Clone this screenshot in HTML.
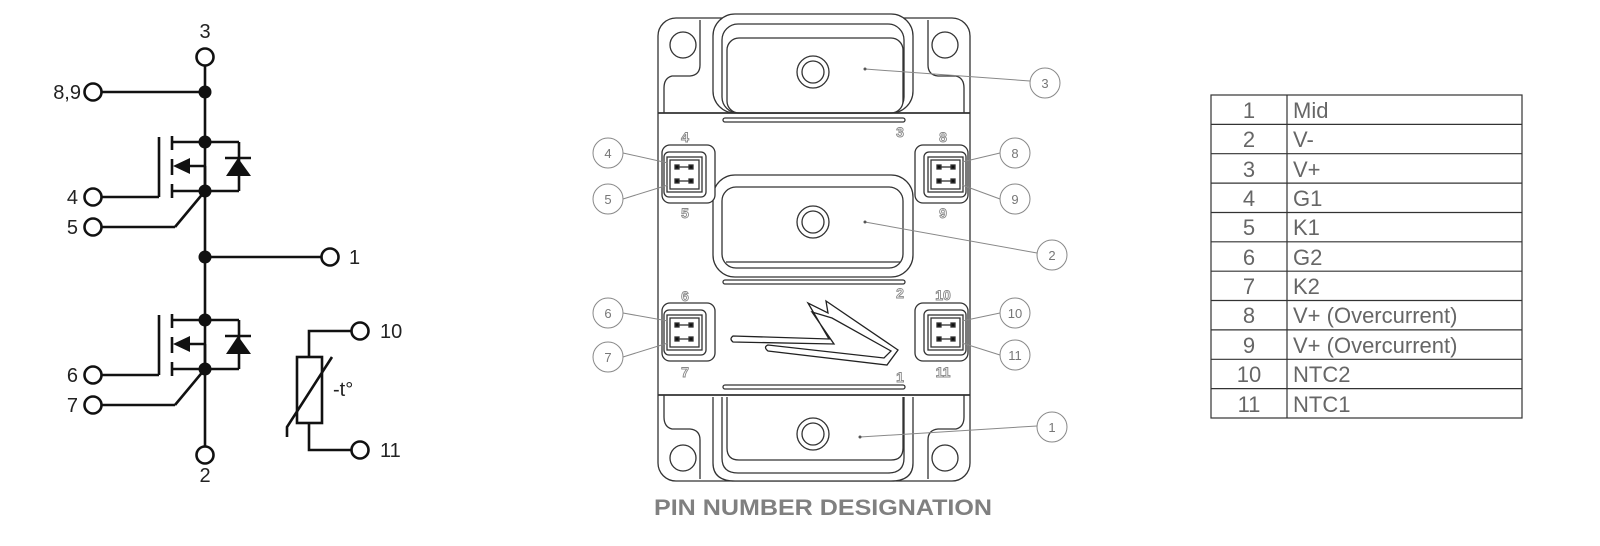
<!DOCTYPE html>
<html><head><meta charset="utf-8"><style>
html,body{margin:0;padding:0;background:#fff;}
svg{display:block;}
</style></head><body>
<svg width="1600" height="546" viewBox="0 0 1600 546" xmlns="http://www.w3.org/2000/svg">
<g stroke="#111" stroke-width="2.6" fill="none">
  <line x1="205" y1="66" x2="205" y2="446"/>
  <circle cx="205" cy="57" r="8.5" fill="#fff"/>
  <circle cx="205" cy="455" r="8.5" fill="#fff"/>
  <line x1="102" y1="92" x2="205" y2="92"/>
  <circle cx="93" cy="92" r="8.5" fill="#fff"/>
  <line x1="205" y1="257" x2="321" y2="257"/>
  <circle cx="330" cy="257" r="8.5" fill="#fff"/>
</g>
<g fill="#111">
  <circle cx="205" cy="92" r="6.5"/>
  <circle cx="205" cy="257" r="6.5"/>
</g>
<g id="m1" stroke="#111" stroke-width="2.6" fill="none">
  <line x1="159" y1="137" x2="159" y2="197"/>
  <line x1="172" y1="136" x2="172" y2="150"/>
  <line x1="172" y1="159" x2="172" y2="175"/>
  <line x1="172" y1="184" x2="172" y2="198"/>
  <line x1="172" y1="142" x2="239" y2="142"/>
  <line x1="172" y1="191" x2="239" y2="191"/>
  <line x1="239" y1="142" x2="239" y2="191"/>
  <line x1="185" y1="166" x2="205" y2="166"/>
  <line x1="205" y1="166" x2="205" y2="191"/>
  <line x1="225" y1="158" x2="251" y2="158"/>
  <line x1="102" y1="197" x2="159" y2="197"/>
  <line x1="102" y1="227" x2="175" y2="227"/>
  <line x1="175" y1="227" x2="205" y2="191"/>
  <circle cx="93" cy="197" r="8.5" fill="#fff"/>
  <circle cx="93" cy="227" r="8.5" fill="#fff"/>
  <polygon points="238,158 226,176 251,176" fill="#111" stroke="none"/>
  <polygon points="173,166 190,158 190,174" fill="#111" stroke="none"/>
  <circle cx="205" cy="142" r="6.5" fill="#111" stroke="none"/>
  <circle cx="205" cy="191" r="6.5" fill="#111" stroke="none"/>
</g>
<use href="#m1" transform="translate(0,178)"/>
<g stroke="#111" stroke-width="2.6" fill="none">
  <rect x="297" y="357" width="25" height="66"/>
  <polyline points="309,357 309,331 351,331"/>
  <polyline points="309,423 309,450 351,450"/>
  <circle cx="360" cy="331" r="8.5" fill="#fff"/>
  <circle cx="360" cy="450" r="8.5" fill="#fff"/>
  <polyline points="287,437 287,427 332,357"/>
</g>
<g font-family="Liberation Sans, sans-serif" font-size="20" fill="#222">
  <text x="205" y="38" text-anchor="middle">3</text>
  <text x="205" y="482" text-anchor="middle">2</text>
  <text x="81" y="99" text-anchor="end">8,9</text>
  <text x="78" y="204" text-anchor="end">4</text>
  <text x="78" y="234" text-anchor="end">5</text>
  <text x="78" y="382" text-anchor="end">6</text>
  <text x="78" y="412" text-anchor="end">7</text>
  <text x="349" y="264">1</text>
  <text x="380" y="338">10</text>
  <text x="380" y="457">11</text>
  <text x="333" y="396">-t°</text>
</g>

<g stroke="#333" stroke-width="1.3" fill="#fff">
  <rect x="658" y="18" width="312" height="463" rx="18"/>
  <path d="M700 20 L700 65 Q700 75 690 76 L672 76 Q664 78 664 88 L664 113 M928 20 L928 65 Q928 75 938 76 L956 76 Q964 78 964 88 L964 113" fill="none"/>
  <path d="M700 479 L700 440 Q700 430 690 429 L672 429 Q664 427 664 417 L664 395 M928 479 L928 440 Q928 430 938 429 L956 429 Q964 427 964 417 L964 395" fill="none"/>
  <circle cx="683" cy="45" r="13"/><circle cx="945" cy="45" r="13"/>
  <circle cx="683" cy="458" r="13"/><circle cx="945" cy="458" r="13"/>
  <rect x="713" y="14" width="200" height="99" rx="22"/>
  <rect x="722" y="24" width="182" height="89" rx="16"/>
  <rect x="727" y="38" width="176" height="75" rx="12"/>
  <circle cx="813" cy="72" r="16"/><circle cx="813" cy="72" r="11"/>
  <line x1="658" y1="113" x2="970" y2="113" stroke-width="1.8"/>
  <line x1="658" y1="395" x2="970" y2="395" stroke-width="1.8"/>
  <rect x="723" y="118" width="182" height="4" rx="2"/>
  <rect x="723" y="280" width="182" height="4" rx="2"/>
  <rect x="723" y="385" width="182" height="4" rx="2"/>
  <rect x="713" y="175" width="200" height="102" rx="22"/>
  <rect x="722" y="187" width="181" height="81" rx="14"/>
  <line x1="726" y1="262" x2="900" y2="262"/>
  <circle cx="813" cy="222" r="16"/><circle cx="813" cy="222" r="11"/>
  <path d="M713 397 L713 463 Q713 481 735 481 L891 481 Q913 481 913 463 L913 397"/>
  <path d="M722 397 L722 458 Q722 473 738 473 L888 473 Q904 473 904 458 L904 397"/>
  <path d="M727 397 L727 448 Q727 460 739 460 L891 460 Q903 460 903 448 L903 397"/>
  <circle cx="813" cy="434" r="16"/><circle cx="813" cy="434" r="11"/>
</g>
<g id="cn" stroke="#333" stroke-width="1.3" fill="#fff">
  <rect x="662" y="145" width="53" height="58" rx="8"/>
  <rect x="664" y="152" width="42" height="45" rx="5"/>
  <rect x="667" y="157" width="35" height="35"/>
  <rect x="670" y="160" width="29" height="29" fill="none"/>
  <line x1="677" y1="167" x2="691" y2="167"/>
  <line x1="677" y1="181" x2="691" y2="181"/>
  <rect x="675" y="165" width="4" height="4" fill="#111"/>
  <rect x="689" y="165" width="4" height="4" fill="#111"/>
  <rect x="675" y="179" width="4" height="4" fill="#111"/>
  <rect x="689" y="179" width="4" height="4" fill="#111"/>
</g>
<use href="#cn" transform="translate(0,158)"/>
<use href="#cn" transform="translate(1630,0) scale(-1,1)"/>
<use href="#cn" transform="translate(1630,158) scale(-1,1)"/>
<path d="M733 336 L829 339 L808 303 L828 313 L826 301 L898 350 L887 365 L768 351 Q763 347 768 345 L884 358 L891 351 L832 318 L812 312 L834 344 L733 342 Q729 339 733 336 Z" fill="#fff" stroke="#222" stroke-width="1.3"/>
<g font-family="Liberation Sans, sans-serif" font-weight="bold" font-size="14" fill="#fff" stroke="#888" stroke-width="0.9" text-anchor="middle">
  <text x="900" y="137">3</text><text x="900" y="298">2</text><text x="900" y="382">1</text>
  <text x="685" y="142">4</text><text x="685" y="218">5</text>
  <text x="943" y="142">8</text><text x="943" y="218">9</text>
  <text x="685" y="301">6</text><text x="685" y="377">7</text>
  <text x="943" y="300">10</text><text x="943" y="377">11</text>
</g>
<g stroke="#888" stroke-width="1" fill="#fff">
  <line x1="623" y1="153" x2="668" y2="163"/>
  <line x1="623" y1="199" x2="668" y2="185"/>
  <line x1="623" y1="313" x2="668" y2="321"/>
  <line x1="623" y1="357" x2="668" y2="343"/>
  <line x1="1000" y1="153" x2="962" y2="162"/>
  <line x1="1000" y1="199" x2="962" y2="185"/>
  <line x1="1000" y1="313" x2="962" y2="321"/>
  <line x1="1000" y1="355" x2="962" y2="343"/>
  <line x1="865" y1="69" x2="1030" y2="81"/>
  <line x1="865" y1="222" x2="1037" y2="253"/>
  <line x1="860" y1="437" x2="1037" y2="426"/>
  <circle cx="608" cy="153" r="15"/><circle cx="608" cy="199" r="15"/>
  <circle cx="608" cy="313" r="15"/><circle cx="608" cy="357" r="15"/>
  <circle cx="1015" cy="153" r="15"/><circle cx="1015" cy="199" r="15"/>
  <circle cx="1015" cy="313" r="15"/><circle cx="1015" cy="355" r="15"/>
  <circle cx="1045" cy="83" r="15"/><circle cx="1052" cy="255" r="15"/><circle cx="1052" cy="427" r="15"/>
</g>
<g fill="#555" stroke="none"><circle cx="865" cy="69" r="1.5"/><circle cx="865" cy="222" r="1.5"/><circle cx="860" cy="437" r="1.5"/></g>
<g font-family="Liberation Sans, sans-serif" font-size="13" fill="#777" text-anchor="middle">
  <text x="608" y="158">4</text><text x="608" y="204">5</text><text x="608" y="318">6</text><text x="608" y="362">7</text>
  <text x="1015" y="158">8</text><text x="1015" y="204">9</text><text x="1015" y="318">10</text><text x="1015" y="360">11</text>
  <text x="1045" y="88">3</text><text x="1052" y="260">2</text><text x="1052" y="432">1</text>
</g>
<text x="823" y="515" text-anchor="middle" font-family="Liberation Sans, sans-serif" font-weight="bold" font-size="22" fill="#808080" textLength="338" lengthAdjust="spacingAndGlyphs">PIN NUMBER DESIGNATION</text>

<g stroke="#333" stroke-width="1.2" fill="none">
  <rect x="1211" y="95" width="311" height="323"/>
  <line x1="1287" y1="95" x2="1287" y2="418"/>
  <line x1="1211" y1="124.4" x2="1522" y2="124.4"/>
  <line x1="1211" y1="153.7" x2="1522" y2="153.7"/>
  <line x1="1211" y1="183.1" x2="1522" y2="183.1"/>
  <line x1="1211" y1="212.5" x2="1522" y2="212.5"/>
  <line x1="1211" y1="241.8" x2="1522" y2="241.8"/>
  <line x1="1211" y1="271.2" x2="1522" y2="271.2"/>
  <line x1="1211" y1="300.5" x2="1522" y2="300.5"/>
  <line x1="1211" y1="329.9" x2="1522" y2="329.9"/>
  <line x1="1211" y1="359.3" x2="1522" y2="359.3"/>
  <line x1="1211" y1="388.6" x2="1522" y2="388.6"/>
</g>
<g font-family="Liberation Sans, sans-serif" font-size="22" fill="#666">
  <g text-anchor="middle">
    <text x="1249" y="118">1</text><text x="1249" y="147">2</text><text x="1249" y="177">3</text>
    <text x="1249" y="206">4</text><text x="1249" y="235">5</text><text x="1249" y="265">6</text>
    <text x="1249" y="294">7</text><text x="1249" y="323">8</text><text x="1249" y="353">9</text>
    <text x="1249" y="382">10</text><text x="1249" y="412">11</text>
  </g>
  <text x="1293" y="118">Mid</text><text x="1293" y="147">V-</text><text x="1293" y="177">V+</text>
  <text x="1293" y="206">G1</text><text x="1293" y="235">K1</text><text x="1293" y="265">G2</text>
  <text x="1293" y="294">K2</text><text x="1293" y="323">V+ (Overcurrent)</text><text x="1293" y="353">V+ (Overcurrent)</text>
  <text x="1293" y="382">NTC2</text><text x="1293" y="412">NTC1</text>
</g>
</svg>
</body></html>
